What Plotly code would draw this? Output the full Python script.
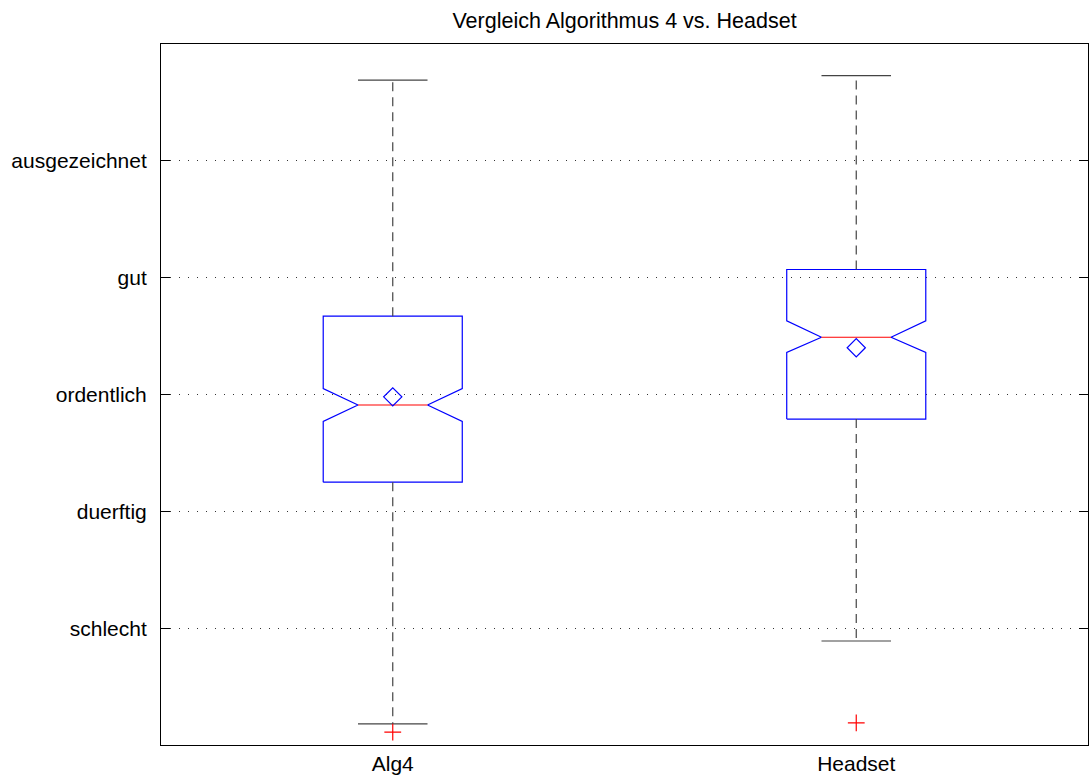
import plotly.graph_objects as go

# ---- data ----
categories = ["Alg4", "Headset"]
upper_whisker = [5.69, 5.73]
q3 = [3.67, 4.07]
notch_hi = [3.05, 3.63]
median = [2.91, 3.49]
notch_lo = [2.77, 3.36]
q1 = [2.25, 2.79]
lower_whisker = [0.18, 0.89]
means = [2.98, 3.40]
outliers = [[0.11], [0.19]]

y_tick_vals = [1, 2, 3, 4, 5]
y_tick_labels = ["schlecht", "duerftig", "ordentlich", "gut", "ausgezeichnet"]

# ---- styling ----
BOX_HALF = 0.15
NOTCH_HALF = 0.075
CAP_HALF = 0.075
FONT = "Liberation Sans, Arial, Helvetica, sans-serif"

fig = go.Figure()

for i, name in enumerate(categories):
    c = i + 1
    # notched box outline
    bx = [c - BOX_HALF, c - BOX_HALF, c - NOTCH_HALF, c - BOX_HALF, c - BOX_HALF,
          c + BOX_HALF, c + BOX_HALF, c + NOTCH_HALF, c + BOX_HALF, c + BOX_HALF,
          c - BOX_HALF]
    by = [q1[i], notch_lo[i], median[i], notch_hi[i], q3[i],
          q3[i], notch_hi[i], median[i], notch_lo[i], q1[i], q1[i]]
    fig.add_trace(go.Scatter(x=bx, y=by, mode="lines",
                             line=dict(color="#0000ff", width=1.2),
                             hoverinfo="skip", showlegend=False))
    # median
    fig.add_trace(go.Scatter(x=[c - NOTCH_HALF, c + NOTCH_HALF], y=[median[i], median[i]],
                             mode="lines", line=dict(color="#ff0000", width=1.2),
                             hoverinfo="skip", showlegend=False))
    # whiskers (dashed)
    fig.add_trace(go.Scatter(x=[c, c, None, c, c],
                             y=[q3[i], upper_whisker[i], None, q1[i], lower_whisker[i]],
                             mode="lines", line=dict(color="#444444", width=1.2, dash="9px,6px"),
                             hoverinfo="skip", showlegend=False))
    # caps
    fig.add_trace(go.Scatter(x=[c - CAP_HALF, c + CAP_HALF, None, c - CAP_HALF, c + CAP_HALF],
                             y=[upper_whisker[i], upper_whisker[i], None,
                                lower_whisker[i], lower_whisker[i]],
                             mode="lines", line=dict(color="#444444", width=1.2),
                             hoverinfo="skip", showlegend=False))
    # mean marker
    fig.add_trace(go.Scatter(x=[c], y=[means[i]], mode="markers",
                             marker=dict(symbol="diamond-open", size=14,
                                         color="#0000ff", line=dict(color="#0000ff", width=1.2)),
                             hoverinfo="skip", showlegend=False))
    # outliers
    fig.add_trace(go.Scatter(x=[c] * len(outliers[i]), y=outliers[i], mode="markers",
                             marker=dict(symbol="cross-thin-open", size=12, color="#ff0000",
                                         line=dict(color="#ff0000", width=1.2)),
                             hoverinfo="skip", showlegend=False))

fig.update_layout(
    width=1090, height=781,
    margin=dict(l=161, r=2, t=44, b=36),
    paper_bgcolor="white", plot_bgcolor="white",
    font=dict(family=FONT, size=21, color="#000000"),
    title=dict(text="Vergleich Algorithmus 4 vs. Headset", x=0.573, xanchor="center",
               y=1 - 20 / 781, yref="container", yanchor="middle",
               font=dict(family=FONT, size=21.5, color="#000000")),
    showlegend=False,
)

fig.update_xaxes(range=[0.5, 2.5], tickvals=[1, 2], ticktext=categories,
                 showgrid=False, zeroline=False,
                 showline=True, linecolor="black", linewidth=1, mirror=True,
                 ticks="inside", ticklen=0, tickfont=dict(size=21))
fig.update_yaxes(range=[0, 6], tickvals=y_tick_vals, ticktext=y_tick_labels,
                 showgrid=True, gridcolor="#333333", gridwidth=1, griddash="1px,8px",
                 zeroline=False,
                 showline=True, linecolor="black", linewidth=1, mirror="allticks",
                 ticks="inside", ticklen=9, tickcolor="black", tickwidth=1,
                 ticklabelstandoff=9, tickfont=dict(size=21))

fig.write_html("out.html", config={"displayModeBar": False},
               post_script="document.body.style.margin='0px';")
